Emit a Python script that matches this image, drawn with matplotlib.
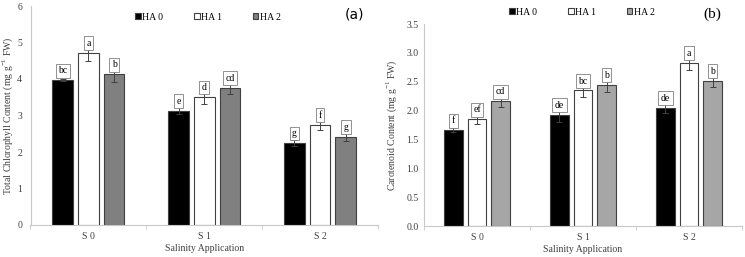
import numpy as np
import matplotlib.pyplot as plt

plt.rcParams['font.family'] = ['Liberation Serif', 'DejaVu Serif']
plt.rcParams['mathtext.fontset'] = 'custom'
plt.rcParams['mathtext.rm'] = 'Liberation Serif'

# data
salinidade = ['S 0', 'S 1', 'S 2']
tratamentos = ['HA 0', 'HA 1', 'HA 2']

# (a) clorofila total
clor_ha0 = [3.97, 3.13, 2.25]
clor_ha1 = [4.72, 3.51, 2.75]
clor_ha2 = [4.13, 3.76, 2.42]
clor_err_ha0 = [0.03, 0.09, 0.08]
clor_err_ha1 = [0.22, 0.19, 0.14]
clor_err_ha2 = [0.21, 0.18, 0.12]
clor_letras_ha0 = ['bc', 'e', 'g']
clor_letras_ha1 = ['a', 'd', 'f']
clor_letras_ha2 = ['b', 'cd', 'g']

# (b) carotenoides
car_ha0 = [1.66, 1.93, 2.05]
car_ha1 = [1.85, 2.35, 2.83]
car_ha2 = [2.16, 2.45, 2.52]
car_err_ha0 = [0.03, 0.12, 0.10]
car_err_ha1 = [0.09, 0.11, 0.13]
car_err_ha2 = [0.10, 0.12, 0.12]
car_letras_ha0 = ['f', 'de', 'de']
car_letras_ha1 = ['ef', 'bc', 'a']
car_letras_ha2 = ['cd', 'b', 'b']

fig = plt.figure(figsize=(7.45, 2.57), dpi=100)
ax1 = fig.add_axes([30.5 / 745, 32 / 257, 347.5 / 745, 219 / 257])
ax2 = fig.add_axes([424 / 745, 31 / 257, 318 / 745, 202 / 257])


def painel(ax, series, erros, letras, cinza, ylim, ticks, fmt, ylabel, ypad, lpad):
    x = np.arange(len(salinidade))
    cores = ['black', 'white', cinza]
    largura = 0.178
    passo = 0.222
    barras = []
    for i, (vals, errs, lets) in enumerate(zip(series, erros, letras)):
        pos = x + (i - 1) * passo
        b = ax.bar(pos, vals, largura, color=cores[i], edgecolor='#404040',
                   linewidth=0.8, label=tratamentos[i], zorder=2)
        barras.append(b)
        ax.errorbar(pos, vals, yerr=errs, fmt='none', ecolor='#404040',
                    elinewidth=0.7, capsize=2, capthick=0.7, zorder=3)
        for px, v, t in zip(pos, vals, lets):
            ax.annotate(t, (px, v), xytext=(0, 3.5), textcoords='offset points',
                        ha='center', va='bottom', fontsize=7, zorder=4,
                        bbox=dict(boxstyle='square,pad=0.25', fc='white',
                                  ec='#808080', lw=0.6))
    ax.set_xlim(-0.5, 2.5)
    ax.set_ylim(*ylim)
    ax.set_yticks(ticks)
    ax.set_yticklabels([fmt.format(t) for t in ticks])
    ax.set_xticks(x)
    ax.set_xticklabels(salinidade)
    ax.set_xticks([-0.5, 0.5, 1.5, 2.5], minor=True)
    ax.tick_params(axis='x', which='major', length=0, labelsize=7, pad=5, colors='#404040')
    ax.tick_params(axis='x', which='minor', length=3, color='#c8c8c8', width=0.6)
    ax.tick_params(axis='y', length=0, labelsize=7, pad=ypad, colors='#404040')
    for s in ['top', 'right']:
        ax.spines[s].set_visible(False)
    for s in ['left', 'bottom']:
        ax.spines[s].set_color('#c8c8c8')
        ax.spines[s].set_linewidth(0.8)
    ax.set_xlabel('Salinity Application', fontsize=7, color='#404040', labelpad=2)
    ax.set_ylabel(ylabel, fontsize=7, color='#404040', labelpad=lpad)
    return barras


b1 = painel(ax1, [clor_ha0, clor_ha1, clor_ha2],
            [clor_err_ha0, clor_err_ha1, clor_err_ha2],
            [clor_letras_ha0, clor_letras_ha1, clor_letras_ha2],
            '#808080', (0, 6), list(range(7)), '{:d}',
            r'Total Chlorophyll Content (mg g$^{-1}$ FW)', 6, 1.5)
b2 = painel(ax2, [car_ha0, car_ha1, car_ha2],
            [car_err_ha0, car_err_ha1, car_err_ha2],
            [car_letras_ha0, car_letras_ha1, car_letras_ha2],
            '#a6a6a6', (0, 3.5), [0, 0.5, 1, 1.5, 2, 2.5, 3, 3.5], '{:.1f}',
            r'Carotenoid Content (mg g$^{-1}$ FW)', 4, 5)

leg_kw = dict(loc='center', ncol=3, frameon=False, fontsize=7,
              handlelength=0.55, handleheight=0.55, handletextpad=0.15,
              columnspacing=3.2, borderaxespad=0)
fig.legend(b1, tratamentos, bbox_to_anchor=(208 / 745, 1 - 17 / 257), **leg_kw)
fig.legend(b2, tratamentos, bbox_to_anchor=(582 / 745, 1 - 12 / 257), **leg_kw)

fig.text(355 / 745, 1 - 14 / 257, '(a)', fontsize=10, family='DejaVu Sans',
         ha='center', va='center')
fig.text(712 / 745, 1 - 14 / 257, '(b)', fontsize=11, ha='center', va='center')

fig.savefig('out.png', dpi=100)
